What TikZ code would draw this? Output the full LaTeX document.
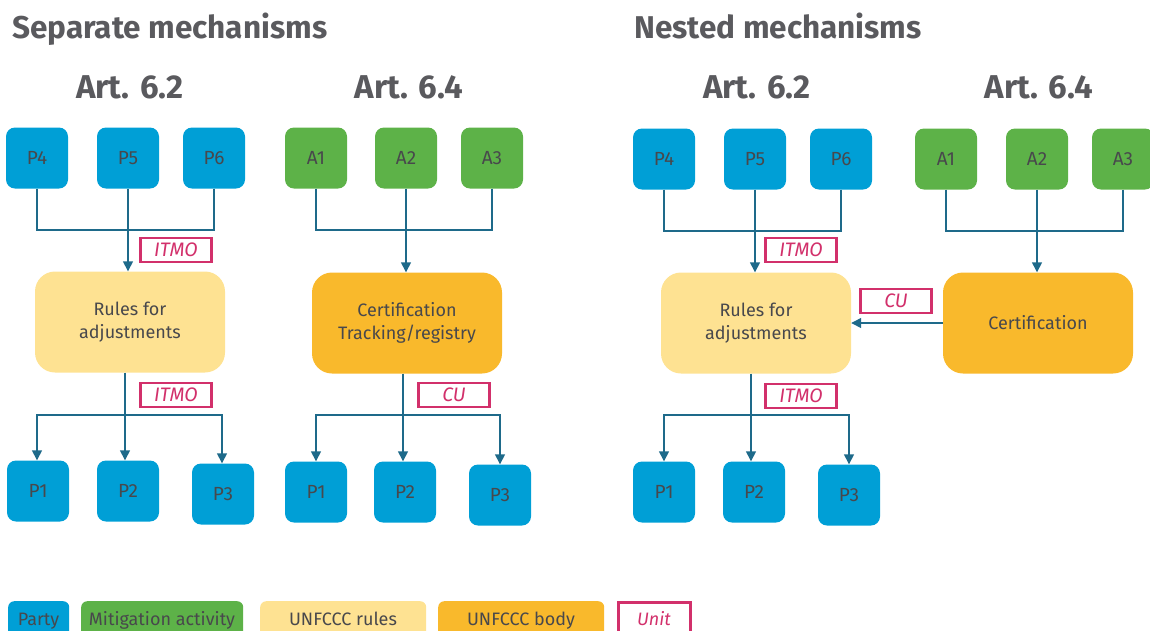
\documentclass[tikz,border=0pt]{standalone}
\usepackage{fontspec}
\setmainfont{Fira Sans}
\usetikzlibrary{arrows.meta}
\definecolor{partyblue}{RGB}{0,159,214}
\definecolor{actgreen}{RGB}{93,178,72}
\definecolor{rulesyel}{RGB}{254,226,146}
\definecolor{bodyorange}{RGB}{249,185,44}
\definecolor{unitmag}{RGB}{210,48,107}
\definecolor{linecol}{RGB}{30,106,138}
\definecolor{txt}{RGB}{72,72,76}
\tikzset{
  every node/.style={text=txt, inner sep=0pt, align=center},
  party/.style={fill=partyblue, rounded corners=9, minimum width=62, minimum height=61,
    font=\fontsize{19}{22}\selectfont},
  act/.style={party, fill=actgreen},
  rulesbox/.style={fill=rulesyel, rounded corners=20, minimum width=190, minimum height=101,
    font=\fontsize{18}{23}\selectfont},
  bodybox/.style={rulesbox, fill=bodyorange},
  unit/.style={draw=unitmag, line width=2.6pt, fill=white, minimum width=71, minimum height=24,
    text=unitmag, font=\fontsize{19.5}{21}\selectfont\itshape},
  wire/.style={draw=linecol, line width=1.4pt},
  flow/.style={wire, -{Triangle[length=10pt, width=10pt]}},
  heading/.style={font=\fontsize{31.5}{36}\selectfont\bfseries, text=txt!90, anchor=base west},
  article/.style={font=\fontsize{33}{36}\selectfont\bfseries, text=txt!90, anchor=base},
  legend/.style={rounded corners=6, minimum height=40, anchor=north west},
  legendtext/.style={anchor=base, font=\fontsize{18}{21}\selectfont}
}
\begin{document}
\begin{tikzpicture}[x=1pt, y=-1pt]
\useasboundingbox (0,0) rectangle (1150,630);
\clip (0,0) rectangle (1150,630);

% ---------- headings ----------
\node[heading] (hsep) at (12,38) {Separate mechanisms};
\node[heading] (hnest) at (634,38) {Nested mechanisms};
\node[article] (a62l) at (130,98) {Art. 6.2};
\node[article] (a64l) at (409,98) {Art. 6.4};
\node[article] (a62r) at (757,98) {Art. 6.2};
\node[article] (a64r) at (1039,98) {Art. 6.4};

% ---------- separate: Art. 6.2 ----------
\node[party] (sp4) at (37,158) {P4};
\node[party] (sp5) at (128,158) {P5};
\node[party] (sp6) at (214,158) {P6};
\node[rulesbox] (srules) at (130,322) {Rules for\\adjustments};
\coordinate (sj1) at (128,230);
\draw[wire] (sp4.south) |- (sj1);
\draw[wire] (sp6.south) |- (sj1);
\draw[flow] (sp5.south) -- (sp5.south |- srules.north);
\node[unit] (sitmo1) at (176,250) {ITMO};

\node[party] (sp1) at (38,491) {P1};
\node[party] (sp2) at (128,491) {P2};
\node[party] (sp3) at (223,494) {P3};
\coordinate (sj2) at (125,415);
\draw[wire] (sj2 |- srules.south) -- (sj2);
\draw[flow] (sj2) -| ([xshift=-1pt]sp1.north);
\draw[flow] (sj2) -- (sj2 |- sp2.north);
\draw[flow] (sj2) -| ([xshift=-1pt]sp3.north);
\node[unit] (sitmo2) at (176,395) {ITMO};

% ---------- separate: Art. 6.4 ----------
\node[act] (sa1) at (316,158) {A1};
\node[act] (sa2) at (406,158) {A2};
\node[act] (sa3) at (492,158) {A3};
\node[bodybox] (scert) at (407,323) {Certification\\Tracking/registry};
\coordinate (sj3) at (406,230);
\draw[wire] (sa1.south) |- (sj3);
\draw[wire] (sa3.south) |- (sj3);
\draw[flow] (sa2.south) -- (sa2.south |- scert.north);

\node[party] (sq1) at (316,492) {P1};
\node[party] (sq2) at (405,492) {P2};
\node[party] (sq3) at (500,495) {P3};
\coordinate (sj4) at (403,415);
\draw[wire] (sj4 |- scert.south) -- (sj4);
\draw[flow] (sj4) -| (sq1.north);
\draw[flow] (sj4) -- (sj4 |- sq2.north);
\draw[flow] (sj4) -| (sq3.north);
\node[unit] (scu) at (454,395) {CU};

% ---------- nested ----------
\node[party] (np4) at (664,159) {P4};
\node[party] (np5) at (755,159) {P5};
\node[party] (np6) at (841,159) {P6};
\node[rulesbox] (nrules) at (756,323) {Rules for\\adjustments};
\coordinate (nj1) at (755,231);
\draw[wire] (np4.south) |- (nj1);
\draw[wire] (np6.south) |- (nj1);
\draw[flow] (np5.south) -- (np5.south |- nrules.north);
\node[unit] (nitmo1) at (801,250) {ITMO};

\node[act] (na1) at (946,159) {A1};
\node[act] (na2) at (1037,159) {A2};
\node[act] (na3) at (1123,159) {A3};
\node[bodybox] (ncert) at (1038,323) {Certification};
\coordinate (nj3) at (1037,231);
\draw[wire] (na1.south) |- (nj3);
\draw[wire] (na3.south) |- (nj3);
\draw[flow] (na2.south) -- (na2.south |- ncert.north);

\draw[flow] (ncert.west) -- (nrules.east);
\node[unit] (ncu) at (896,301) {CU};

\node[party] (nq1) at (664,492) {P1};
\node[party] (nq2) at (754,492) {P2};
\node[party] (nq3) at (849,495) {P3};
\coordinate (nj2) at (751,415);
\draw[wire] (nj2 |- nrules.south) -- (nj2);
\draw[flow] (nj2) -| (nq1.north);
\draw[flow] (nj2) -- (nj2 |- nq2.north);
\draw[flow] (nj2) -| (nq3.north);
\node[unit] (nitmo2) at (801,396) {ITMO};

% ---------- legend ----------
\node[legend, fill=partyblue, minimum width=61] (lparty) at (8,601) {};
\node[legendtext] (tparty) at (38.5,625) {Party};
\node[legend, fill=actgreen, minimum width=162] (lact) at (81,601) {};
\node[legendtext] (tact) at (162,625) {Mitigation activity};
\node[legend, fill=rulesyel, minimum width=166] (lrules) at (260,601) {};
\node[legendtext] (trules) at (343,625) {UNFCCC rules};
\node[legend, fill=bodyorange, minimum width=166] (lbody) at (438,601) {};
\node[legendtext] (tbody) at (521,625) {UNFCCC body};
\draw[unitmag, line width=2.6pt] (618.5,645) -- (618.5,602.5) -- (690.5,602.5) -- (690.5,645);
\node[legendtext, text=unitmag, font=\fontsize{18}{21}\selectfont\itshape] (lunit) at (654,625) {Unit};
\end{tikzpicture}
\end{document}
